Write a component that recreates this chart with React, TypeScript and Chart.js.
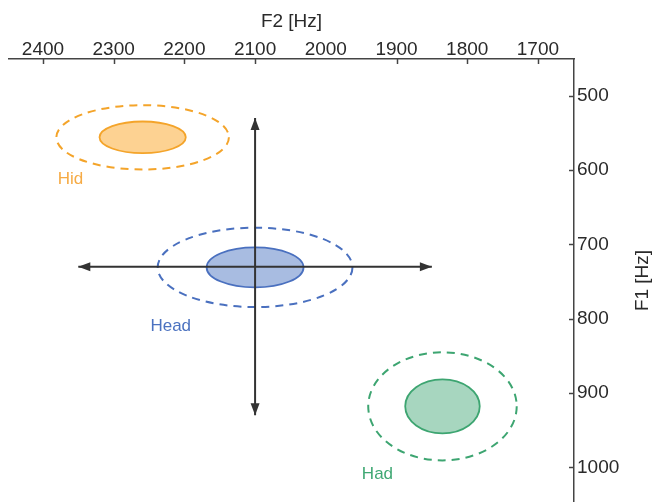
import React, { useEffect, useRef } from "react";
import { Chart, registerables } from "chart.js";

Chart.register(...registerables);

// ---- data ----
const F2_TICKS = [2400, 2300, 2200, 2100, 2000, 1900, 1800, 1700];
const F2_TICK_MARKS = [2400, 2300, 2200, 2100, 1900, 1800, 1700];
const F1_TICKS = [500, 600, 700, 800, 900, 1000];
const F2_MIN = 1649;
const F2_MAX = 2448;
const F1_MIN = 450.6;
const F1_MAX = 1046.7;

const VOWELS = ["Hid", "Head", "Had"];
const CENTER_F2 = [2259, 2100, 1835];
const CENTER_F1 = [556, 731, 918];
const INNER_RX = [61, 68.5, 52.7];
const INNER_RY = [21.3, 26.9, 36.4];
const OUTER_RX = [122, 137.7, 105];
const OUTER_RY = [43.3, 53.4, 72.7];
const LABEL_F2 = [2379, 2248, 1949];
const LABEL_F1 = [612, 810, 1010];

const H_ARROW_F2 = [2350, 1850];
const H_ARROW_F1 = [730, 730];
const V_ARROW_F2 = [2100, 2100];
const V_ARROW_F1 = [530, 930];

// ---- styles ----
const FONT = "'Liberation Sans', Arial, Helvetica, sans-serif";
const STROKES = ["#F4A42A", "#4A70BF", "#3DA571"];
const FILLS = ["#FDD292", "#A8BCE1", "#A7D6BF"];
const LABEL_COLORS = ["#F6AB45", "#4B72C0", "#40A874"];
const AXIS_COLOR = "#444";
const TEXT_COLOR = "#2a2a2a";
const ARROW_COLOR = "#333";

const ellipsePlugin = {
  id: "ellipses",
  beforeDatasetsDraw(chart: any) {
    const { ctx } = chart;
    const x = chart.scales.x;
    const y = chart.scales.y;
    ctx.save();
    VOWELS.forEach((name, i) => {
      const cx = x.getPixelForValue(CENTER_F2[i]);
      const cy = y.getPixelForValue(CENTER_F1[i]);
      const orx = Math.abs(x.getPixelForValue(CENTER_F2[i] + OUTER_RX[i]) - cx);
      const ory = Math.abs(y.getPixelForValue(CENTER_F1[i] + OUTER_RY[i]) - cy);
      const irx = Math.abs(x.getPixelForValue(CENTER_F2[i] + INNER_RX[i]) - cx);
      const iry = Math.abs(y.getPixelForValue(CENTER_F1[i] + INNER_RY[i]) - cy);
      ctx.strokeStyle = STROKES[i];
      ctx.lineWidth = 2;
      ctx.setLineDash([8, 6]);
      ctx.beginPath();
      ctx.ellipse(cx, cy, orx, ory, 0, 0, Math.PI * 2);
      ctx.stroke();
      ctx.setLineDash([]);
      ctx.lineWidth = 1.8;
      ctx.fillStyle = FILLS[i];
      ctx.beginPath();
      ctx.ellipse(cx, cy, irx, iry, 0, 0, Math.PI * 2);
      ctx.fill();
      ctx.stroke();
      ctx.fillStyle = LABEL_COLORS[i];
      ctx.font = `17px ${FONT}`;
      ctx.textAlign = "left";
      ctx.textBaseline = "middle";
      ctx.fillText(name, x.getPixelForValue(LABEL_F2[i]), y.getPixelForValue(LABEL_F1[i]));
    });
    ctx.restore();
  },
};

function drawHead(ctx: any, tx: number, ty: number, dx: number, dy: number) {
  const len = 12;
  const half = 4.5;
  const bx = tx - dx * len;
  const by = ty - dy * len;
  ctx.beginPath();
  ctx.moveTo(tx, ty);
  ctx.lineTo(bx - dy * half, by + dx * half);
  ctx.lineTo(bx + dy * half, by - dx * half);
  ctx.closePath();
  ctx.fill();
}

const arrowPlugin = {
  id: "arrowheads",
  afterDatasetsDraw(chart: any) {
    const { ctx } = chart;
    const x = chart.scales.x;
    const y = chart.scales.y;
    ctx.save();
    ctx.fillStyle = ARROW_COLOR;
    const pairs = [
      [H_ARROW_F2, H_ARROW_F1],
      [V_ARROW_F2, V_ARROW_F1],
    ];
    pairs.forEach(([fx, fy]) => {
      const p0 = { x: x.getPixelForValue(fx[0]), y: y.getPixelForValue(fy[0]) };
      const p1 = { x: x.getPixelForValue(fx[1]), y: y.getPixelForValue(fy[1]) };
      const L = Math.hypot(p1.x - p0.x, p1.y - p0.y);
      const dx = (p1.x - p0.x) / L;
      const dy = (p1.y - p0.y) / L;
      drawHead(ctx, p1.x, p1.y, dx, dy);
      drawHead(ctx, p0.x, p0.y, -dx, -dy);
    });
    ctx.restore();
  },
};

const axisExtrasPlugin = {
  id: "axisExtras",
  afterDraw(chart: any) {
    const { ctx, chartArea } = chart;
    const x = chart.scales.x;
    const y = chart.scales.y;
    ctx.save();
    ctx.strokeStyle = AXIS_COLOR;
    ctx.lineWidth = 1.5;
    F2_TICK_MARKS.forEach((v) => {
      const px = Math.round(x.getPixelForValue(v)) + 0.5;
      ctx.beginPath();
      ctx.moveTo(px, chartArea.top);
      ctx.lineTo(px, chartArea.top + 5);
      ctx.stroke();
    });
    F1_TICKS.forEach((v) => {
      const py = Math.round(y.getPixelForValue(v)) + 0.5;
      ctx.beginPath();
      ctx.moveTo(chartArea.right, py);
      ctx.lineTo(chartArea.right - 5, py);
      ctx.stroke();
    });
    // F1 axis title, reading bottom to top
    ctx.fillStyle = TEXT_COLOR;
    ctx.font = `19px ${FONT}`;
    ctx.textAlign = "center";
    ctx.textBaseline = "middle";
    ctx.translate(643, (chartArea.top + chartArea.bottom) / 2);
    ctx.rotate(-Math.PI / 2);
    ctx.fillText("F1 [Hz]", 0, 0);
    ctx.restore();
  },
};

export default function App() {
  const ref = useRef<HTMLCanvasElement | null>(null);
  useEffect(() => {
    document.body.style.margin = "0";
    if (!ref.current) return;
    const chart = new Chart(ref.current, {
      type: "scatter",
      data: {
        datasets: [
          {
            data: H_ARROW_F2.map((f, i) => ({ x: f, y: H_ARROW_F1[i] })),
            showLine: true,
            borderColor: ARROW_COLOR,
            borderWidth: 2,
            pointRadius: 0,
          },
          {
            data: V_ARROW_F2.map((f, i) => ({ x: f, y: V_ARROW_F1[i] })),
            showLine: true,
            borderColor: ARROW_COLOR,
            borderWidth: 2,
            pointRadius: 0,
          },
        ],
      },
      options: {
        responsive: false,
        animation: false,
        layout: { padding: { left: 9, right: 0, top: 0, bottom: 0 }, autoPadding: false },
        plugins: { legend: { display: false }, tooltip: { enabled: false } },
        scales: {
          x: {
            type: "linear",
            position: "top",
            reverse: true,
            min: F2_MIN,
            max: F2_MAX,
            afterBuildTicks: (s: any) => {
              s.ticks = F2_TICKS.map((v) => ({ value: v }));
            },
            afterFit: (s: any) => {
              s.height = 59;
              s.paddingLeft = 0;
              s.paddingRight = 0;
            },
            grid: { display: true, drawOnChartArea: false, drawTicks: false },
            border: { display: true, color: AXIS_COLOR, width: 1.5 },
            ticks: {
              font: { family: FONT, size: 19 },
              color: TEXT_COLOR,
              padding: -2,
              maxRotation: 0,
              autoSkip: false,
              callback: (v: any) => String(v),
            },
            title: {
              display: true,
              text: "F2 [Hz]",
              font: { family: FONT, size: 19 },
              color: TEXT_COLOR,
              padding: { top: 10, bottom: 0 },
            },
          },
          y: {
            type: "linear",
            position: "right",
            reverse: true,
            min: F1_MIN,
            max: F1_MAX,
            afterBuildTicks: (s: any) => {
              s.ticks = F1_TICKS.map((v) => ({ value: v }));
            },
            afterFit: (s: any) => {
              s.width = 79;
              s.paddingTop = 0;
              s.paddingBottom = 0;
            },
            grid: { display: true, drawOnChartArea: false, drawTicks: false },
            border: { display: true, color: AXIS_COLOR, width: 1.5 },
            ticks: {
              font: { family: FONT, size: 19 },
              color: TEXT_COLOR,
              padding: 3,
              autoSkip: false,
              callback: (v: any) => String(v),
            },
          },
        },
      } as any,
      plugins: [ellipsePlugin, arrowPlugin, axisExtrasPlugin],
    });
    return () => chart.destroy();
  }, []);
  return (
    <div style={{ width: 653, height: 502 }}>
      <canvas ref={ref} width={653} height={502} style={{ display: "block" }} />
    </div>
  );
}
